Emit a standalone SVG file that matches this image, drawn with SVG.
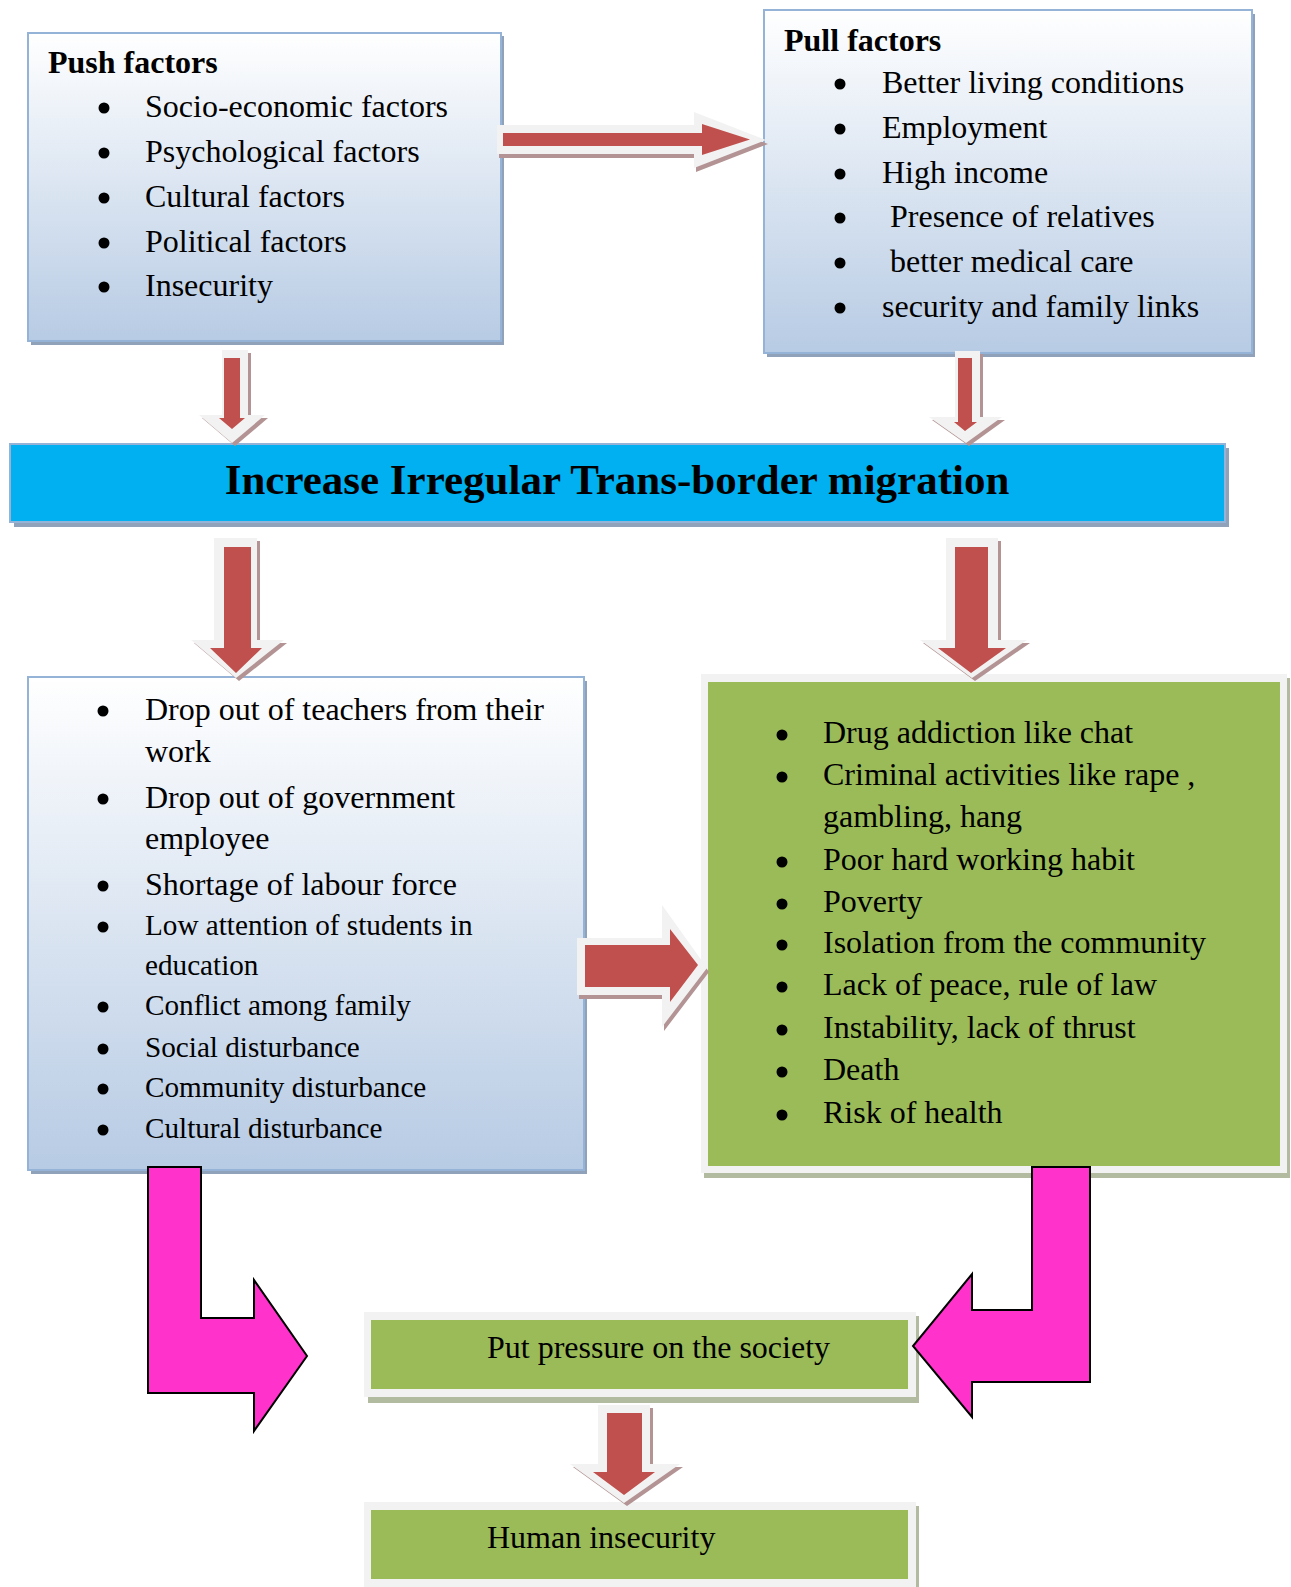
<svg xmlns="http://www.w3.org/2000/svg" width="1291" height="1587" viewBox="0 0 1291 1587">
<defs>
<linearGradient id="blueGrad" x1="0" y1="0" x2="0" y2="1">
<stop offset="0" stop-color="#FFFFFF"/>
<stop offset="1" stop-color="#B7CBE4"/>
</linearGradient>
</defs>
<style>
text{font-family:"Liberation Serif","Times New Roman",serif;fill:#000;}
.t{font-size:32px;}
.s{font-size:29.2px;}
.h{font-size:32px;font-weight:bold;}
.title{font-size:43px;font-weight:bold;}
.bbox{fill:url(#blueGrad);stroke:#95B3D7;stroke-width:2;}
.bshadow{fill:#8FA2BA;}
.gframe{fill:#F2F2F2;}
.gshadow{fill:#B2BAA0;}
.green{fill:#9BBB59;}
.dot{fill:#000;}
.ash{fill:#B39393;}
.aw{fill:#F2F2F2;}
.ar{fill:#C0504D;}
.pink{fill:#FF33CC;stroke:#000;stroke-width:2;stroke-linejoin:miter;}
</style>
<rect width="1291" height="1587" fill="#FFFFFF"/>

<g id="push">
<rect class="bshadow" x="31" y="36" width="473" height="309"/>
<rect class="bbox" x="28" y="33" width="473" height="308"/>
<text class="h" x="48" y="73">Push factors</text>
<circle class="dot" cx="104" cy="108" r="5.5"/><text class="t" x="145" y="117">Socio-economic factors</text>
<circle class="dot" cx="104" cy="153" r="5.5"/><text class="t" x="145" y="162">Psychological factors</text>
<circle class="dot" cx="104" cy="198" r="5.5"/><text class="t" x="145" y="207">Cultural factors</text>
<circle class="dot" cx="104" cy="243" r="5.5"/><text class="t" x="145" y="252">Political factors</text>
<circle class="dot" cx="104" cy="287" r="5.5"/><text class="t" x="145" y="296">Insecurity</text>
</g>

<g id="pull">
<rect class="bshadow" x="767" y="14" width="488" height="343"/>
<rect class="bbox" x="764" y="10" width="488" height="343"/>
<text class="h" x="784" y="51">Pull factors</text>
<circle class="dot" cx="840" cy="84" r="5.5"/><text class="t" x="882" y="93">Better living conditions</text>
<circle class="dot" cx="840" cy="129" r="5.5"/><text class="t" x="882" y="138">Employment</text>
<circle class="dot" cx="840" cy="174" r="5.5"/><text class="t" x="882" y="183">High income</text>
<circle class="dot" cx="840" cy="218" r="5.5"/><text class="t" x="890" y="227">Presence of relatives</text>
<circle class="dot" cx="840" cy="263" r="5.5"/><text class="t" x="890" y="272">better medical care</text>
<circle class="dot" cx="840" cy="308" r="5.5"/><text class="t" x="882" y="317">security and family links</text>
</g>

<g id="migration">
<rect class="bshadow" x="14" y="448" width="1215" height="79"/>
<rect x="10" y="444" width="1215" height="78" fill="#00B0F0" stroke="#95B3D7" stroke-width="2"/>
<text class="title" x="617" y="494" text-anchor="middle">Increase Irregular Trans-border migration</text>
</g>

<g id="effects-left">
<rect class="bshadow" x="31" y="681" width="556" height="493"/>
<rect class="bbox" x="28" y="677" width="556" height="493"/>
<circle class="dot" cx="103" cy="711" r="5.5"/><text class="t" x="145" y="720">Drop out of teachers from their</text>
<text class="t" x="145" y="762">work</text>
<circle class="dot" cx="103" cy="799" r="5.5"/><text class="t" x="145" y="808">Drop out of government</text>
<text class="t" x="145" y="849">employee</text>
<circle class="dot" cx="103" cy="886" r="5.5"/><text class="t" x="145" y="895">Shortage of labour force</text>
<circle class="dot" cx="103" cy="927" r="5.5"/><text class="s" x="145" y="935">Low attention of students in</text>
<text class="s" x="145" y="975">education</text>
<circle class="dot" cx="103" cy="1007" r="5.5"/><text class="s" x="145" y="1015">Conflict among family</text>
<circle class="dot" cx="103" cy="1049" r="5.5"/><text class="s" x="145" y="1057">Social disturbance</text>
<circle class="dot" cx="103" cy="1089" r="5.5"/><text class="s" x="145" y="1097">Community disturbance</text>
<circle class="dot" cx="103" cy="1130" r="5.5"/><text class="s" x="145" y="1138">Cultural disturbance</text>
</g>

<g id="effects-right">
<rect class="gshadow" x="704" y="678" width="586" height="500"/>
<rect class="gframe" x="701" y="674" width="586" height="499"/>
<rect class="green" x="708" y="682" width="572" height="484"/>
<circle class="dot" cx="782" cy="735" r="5.5"/><text class="t" x="823" y="743">Drug addiction like chat</text>
<circle class="dot" cx="782" cy="777" r="5.5"/><text class="t" x="823" y="785">Criminal activities like rape ,</text>
<text class="t" x="823" y="827">gambling, hang</text>
<circle class="dot" cx="782" cy="862" r="5.5"/><text class="t" x="823" y="870">Poor hard working habit</text>
<circle class="dot" cx="782" cy="904" r="5.5"/><text class="t" x="823" y="912">Poverty</text>
<circle class="dot" cx="782" cy="945" r="5.5"/><text class="t" x="823" y="953">Isolation from the community</text>
<circle class="dot" cx="782" cy="987" r="5.5"/><text class="t" x="823" y="995">Lack of peace, rule of law</text>
<circle class="dot" cx="782" cy="1030" r="5.5"/><text class="t" x="823" y="1038">Instability, lack of thrust</text>
<circle class="dot" cx="782" cy="1072" r="5.5"/><text class="t" x="823" y="1080">Death</text>
<circle class="dot" cx="782" cy="1115" r="5.5"/><text class="t" x="823" y="1123">Risk of health</text>
</g>

<g id="pressure">
<rect class="gshadow" x="368" y="1316" width="551" height="87"/>
<rect class="gframe" x="364" y="1312" width="552" height="85"/>
<rect class="green" x="371" y="1320" width="537" height="69"/>
<text class="t" x="487" y="1358">Put pressure on the society</text>
</g>

<g id="insecurity">
<rect class="gshadow" x="368" y="1506" width="551" height="81"/>
<rect class="gframe" x="364" y="1502" width="552" height="85"/>
<rect class="green" x="371" y="1510" width="537" height="69"/>
<text class="t" x="487" y="1548">Human insecurity</text>
</g>

<g id="connectors">
<g id="arrow-push-pull">
<polygon class="ash" transform="translate(2,4)" points="497,125 694,125 694,112 766,140 694,168 694,154 497,154"/>
<polygon class="aw" points="497,125 694,125 694,112 766,140 694,168 694,154 497,154"/>
<polygon class="ar" points="503,133 702,133 702,124 750,139.5 702,155 702,146 503,146"/>
</g>
<g id="arrow-push-migration">
<polygon class="ash" transform="translate(3,3)" points="222,350 248,350 248,415 265,415 232,443 199,415 222,415"/>
<polygon class="aw" points="222,350 248,350 248,415 265,415 232,443 199,415 222,415"/>
<polygon class="ar" points="224,358 240,358 240,418 245,418 232,429 219,418 224,418"/>
</g>
<g id="arrow-pull-migration">
<polygon class="ash" transform="translate(3,3)" points="955,351 980,351 980,417 1002,417 966,443 929,417 955,417"/>
<polygon class="aw" points="955,351 980,351 980,417 1002,417 966,443 929,417 955,417"/>
<polygon class="ar" points="958,358 972,358 972,422 977,422 965,431 954,422 958,422"/>
</g>
<g id="arrow-migration-left">
<polygon class="ash" transform="translate(3,3)" points="214,538 257,538 257,640 284,640 236,678 191,640 214,640"/>
<polygon class="aw" points="214,538 257,538 257,640 284,640 236,678 191,640 214,640"/>
<polygon class="ar" points="224,547 251,547 251,648 262,648 236,673 210,648 224,648"/>
</g>
<g id="arrow-migration-right">
<polygon class="ash" transform="translate(3,3)" points="946,538 998,538 998,640 1027,640 972,678 920,640 946,640"/>
<polygon class="aw" points="946,538 998,538 998,640 1027,640 972,678 920,640 946,640"/>
<polygon class="ar" points="955,547 988,547 988,648 1006,648 971,673 938,648 955,648"/>
</g>
<g id="arrow-left-right">
<polygon class="ash" transform="translate(2,4)" points="577,938 662,938 662,905 707,968 662,1027 662,995 577,995"/>
<polygon class="aw" points="577,938 662,938 662,905 707,968 662,1027 662,995 577,995"/>
<polygon class="ar" points="585,945 670,945 670,929 698,965 670,1002 670,987 585,987"/>
</g>
<g id="arrow-pressure-insecurity">
<polygon class="ash" transform="translate(3,3)" points="598,1405 650,1405 650,1464 680,1464 624,1503 570,1464 598,1464"/>
<polygon class="aw" points="598,1405 650,1405 650,1464 680,1464 624,1503 570,1464 598,1464"/>
<polygon class="ar" points="607,1413 642,1413 642,1472 655,1472 624,1495 593,1472 607,1472"/>
</g>
<polygon id="arrow-left-pressure" class="pink" points="148,1167 201,1167 201,1318 254,1318 254,1280 307,1356 254,1431 254,1393 148,1393"/>
<polygon id="arrow-right-pressure" class="pink" points="1032,1167 1090,1167 1090,1382 972,1382 972,1417 913,1346 972,1274 972,1310 1032,1310"/>
</g>
</svg>
